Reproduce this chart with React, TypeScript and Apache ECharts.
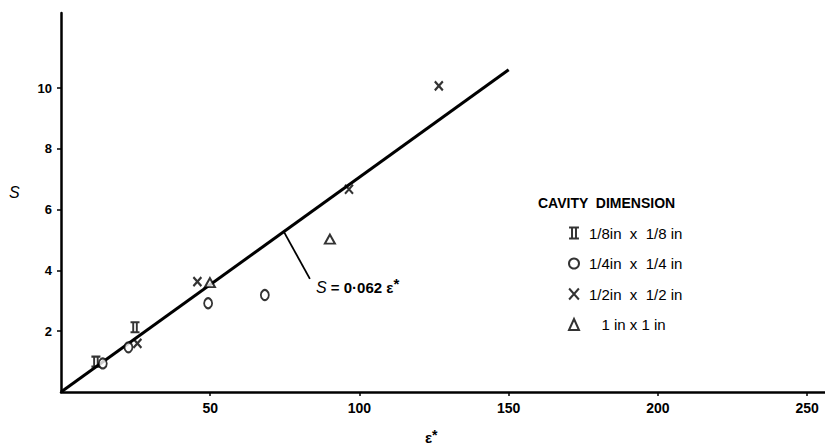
import React, { useEffect, useRef } from "react";
import * as echarts from "echarts";

// Data
const fitLine = [[0, 0], [150, 10.6]];
const leader = [[74.7, 5.27], [83.4, 3.72]];
const pointsEighth = [[11.7, 1.0], [24.8, 2.13]]; // II
const pointsQuarter = [[14, 0.94], [22.6, 1.47], [49.3, 2.92], [68.3, 3.19]]; // O
const pointsHalf = [[25.6, 1.6], [45.7, 3.63], [96.5, 6.67], [126.6, 10.07]]; // X
const pointsOne = [[49.9, 3.6], [90.1, 5.03]]; // Δ
const xTicks = [50, 100, 150, 200, 250];
const yTicks = [2, 4, 6, 8, 10];
const legendNames = ["1/8in  x  1/8 in", "1/4in  x  1/4 in", "1/2in  x  1/2 in", "   1 in x 1 in"];

const FONT = "'Liberation Sans', Arial, sans-serif";

export default function App() {
  const ref = useRef<HTMLDivElement>(null);
  useEffect(() => {
    if (!ref.current) return;
    const chart = echarts.init(ref.current, null, { renderer: "svg" });
    const strokeStyle = (bw: number) => ({
      color: "rgba(255,255,255,0)",
      borderColor: "#000",
      borderWidth: bw,
    });
    chart.setOption({
      animation: false,
      backgroundColor: "#fff",
      grid: { left: 61, right: 0, top: 13, bottom: 56, containLabel: false },
      xAxis: {
        type: "value",
        min: 0,
        max: 256,
        splitLine: { show: false },
        axisLine: { lineStyle: { color: "#000", width: 2.5 } },
        axisTick: { customValues: xTicks, length: 4, lineStyle: { color: "#000", width: 1.5 } },
        axisLabel: {
          customValues: xTicks,
          margin: 9,
          color: "#000",
          fontFamily: FONT,
          fontWeight: "bold",
          fontSize: 14,
        },
      },
      yAxis: {
        type: "value",
        min: 0,
        max: 12.47,
        splitLine: { show: false },
        axisLine: { lineStyle: { color: "#000", width: 2.5 } },
        axisTick: { customValues: yTicks, length: 4, lineStyle: { color: "#000", width: 1.5 } },
        axisLabel: {
          customValues: yTicks,
          margin: 9,
          color: "#000",
          fontFamily: FONT,
          fontWeight: "bold",
          fontSize: 13,
        },
      },
      legend: {
        orient: "vertical",
        left: 563,
        top: 220,
        itemWidth: 10,
        itemHeight: 11,
        itemGap: 14.5,
        selectedMode: false,
        data: legendNames,
        textStyle: {
          color: "#000",
          fontFamily: FONT,
          fontSize: 15,
          lineHeight: 16,
          padding: [0, 0, 0, 5],
        },
      },
      graphic: [
        {
          type: "text",
          left: 538,
          top: 196,
          style: {
            text: "CAVITY  DIMENSION",
            fill: "#000",
            font: `bold 14px ${FONT}`,
          },
        },
        {
          type: "text",
          left: 9,
          top: 184,
          style: { text: "S", fill: "#000", font: `italic 16px ${FONT}` },
        },
        {
          type: "text",
          left: 425,
          top: 427,
          style: {
            text: "{e|ε}{s|*}",
            rich: {
              e: { fill: "#000", font: `bold 15px ${FONT}`, lineHeight: 17, padding: [3, 0, 0, 0] },
              s: { fill: "#000", font: `bold 14px ${FONT}`, lineHeight: 14, verticalAlign: "top" },
            },
          },
        },
        {
          type: "text",
          left: 316,
          top: 276,
          style: {
            text: "{a|S}{b| = 0·062 }{e|ε}{s|*}",
            rich: {
              a: { fill: "#000", font: `italic 16px ${FONT}` },
              b: { fill: "#000", font: `bold 15px ${FONT}` },
              e: { fill: "#000", font: `bold 15px ${FONT}` },
              s: { fill: "#000", font: `bold 15px ${FONT}`, verticalAlign: "top", padding: [0, 0, 8, 0] },
            },
          },
        },
      ],
      series: [
        {
          type: "line",
          data: fitLine,
          symbol: "none",
          lineStyle: { color: "#000", width: 3 },
          z: 1,
        },
        {
          type: "line",
          data: leader,
          symbol: "none",
          lineStyle: { color: "#000", width: 1.8 },
          z: 1,
        },
        {
          name: legendNames[0],
          type: "scatter",
          data: pointsEighth,
          symbol: "path://M0,0L9,0M0,10L9,10M2.7,0L2.7,10M6.3,0L6.3,10",
          symbolSize: [9, 10],
          itemStyle: strokeStyle(2),
          z: 3,
        },
        {
          name: legendNames[1],
          type: "scatter",
          data: pointsQuarter,
          symbol: "circle",
          symbolSize: [8, 10],
          itemStyle: { color: "#fff", borderColor: "#000", borderWidth: 2 },
          z: 3,
        },
        {
          name: legendNames[2],
          type: "scatter",
          data: pointsHalf,
          symbol: "path://M0,0L8,9M8,0L0,9",
          symbolSize: [8, 9],
          itemStyle: strokeStyle(2.2),
          z: 3,
        },
        {
          name: legendNames[3],
          type: "scatter",
          data: pointsOne,
          symbol: "triangle",
          symbolSize: [10, 9],
          itemStyle: { color: "#fff", borderColor: "#000", borderWidth: 2 },
          z: 3,
        },
      ],
    });
    return () => chart.dispose();
  }, []);
  return (
    <div
      ref={ref}
      style={{ position: "fixed", left: 0, top: 0, width: 825, height: 448, background: "#fff" }}
    />
  );
}
